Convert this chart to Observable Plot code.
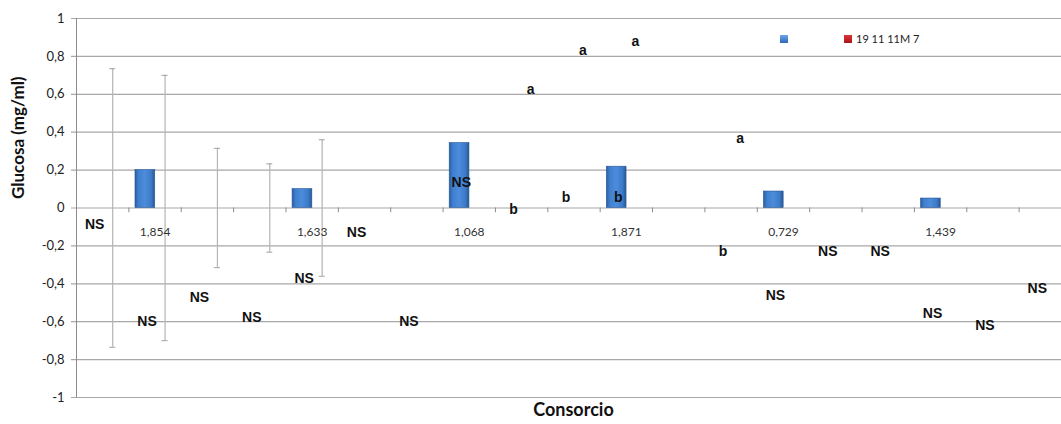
<!DOCTYPE html>
<html>
<head>
<meta charset="utf-8">
<script src="https://cdn.jsdelivr.net/npm/d3@7"></script>
<script src="https://cdn.jsdelivr.net/npm/@observablehq/plot@0.6"></script>
<style>
  body { margin: 0; background: #fff; }
  #wrap { position: relative; width: 1061px; height: 424px; }
  #legend { position: absolute; left: 780px; top: 32px; font-family: Lato, "Open Sans", sans-serif; font-size: 11px; color: #222; display: flex; align-items: center; }
  #legend .sw { width: 8px; height: 8px; display: inline-block; }
</style>
</head>
<body>
<div id="wrap">
  <div id="legend">
    <span class="sw" style="background: linear-gradient(#6aa6ea, #2f68b4);"></span>
    <span style="display:inline-block;width:56px"></span>
    <span class="sw" style="background: linear-gradient(#e0343a, #a8141a);"></span>
    <span style="margin-left:4px">19 11 11M 7</span>
  </div>
</div>
<script>
// ---- data ----
const tickLabels = ["", "1,854", "", "", "1,633", "", "", "1,068", "", "", "1,871", "", "", "0,729", "", "", "1,439", "", ""];
const categories = ["c0","c1","c2","c3","c4","c5","c6","c7","c8","c9","c10","c11","c12","c13","c14","c15","c16","c17","c18"];
const blueValues = [0, 0.2, 0, 0, 0.1, 0, 0, 0.343, 0, 0, 0.218, 0, 0, 0.087, 0, 0, 0.05, 0, 0];
const redValues  = [0, 0, 0, 0, 0, null, null, null, null, null, null, null, null, null, null, null, null, null, null];
const redErrors  = [0.735, 0.70, 0.315, 0.233, 0.36, null, null, null, null, null, null, null, null, null, null, null, null, null, null];
const yTicks = [-1, -0.8, -0.6, -0.4, -0.2, 0, 0.2, 0.4, 0.6, 0.8, 1];

const labelCats   = ["c0","c1","c2","c3","c4","c5","c6","c7","c8","c9","c10","c8","c9","c10","c12","c12","c13","c14","c15","c16","c17","c18"];
const labelValues = [-0.087, -0.60, -0.47, -0.58, -0.37, -0.13, -0.60, 0.136, -0.01, 0.057, 0.057, 0.627, 0.833, 0.88, 0.366, -0.23, -0.46, -0.23, -0.23, -0.557, -0.62, -0.425];
const labelTexts  = ["NS","NS","NS","NS","NS","NS","NS","NS","b","b","b","a","a","a","a","b","NS","NS","NS","NS","NS","NS"];
const labelSeries = [1,1,1,1,1,1,1,1,1,1,1,2,2,2,2,1,1,1,1,1,1,1];

// ---- tables built from arrays ----
const blue = categories.map((c, i) => ({cat: c, v: blueValues[i]})).filter(d => d.v > 0);
const red = categories.map((c, i) => ({cat: c, v: redValues[i], e: redErrors[i]})).filter(d => d.e != null);
const labels = labelTexts.map((t, i) => ({cat: labelCats[i], v: labelValues[i], t, s: labelSeries[i]}));
const ticksX = tickLabels.map((t, i) => ({cat: categories[i], t}));

const xRange = [76, 1071];
const bw = (xRange[1] - xRange[0]) / categories.length;
const fmt = d => String(Math.round(d * 10) / 10).replace(".", ",");
const labelFont = "'Liberation Sans', Arial, sans-serif";

const chart = Plot.plot({
  width: 1061,
  height: 424,
  marginLeft: 71,
  marginRight: 0,
  marginTop: 18,
  marginBottom: 27,
  style: {fontFamily: "Lato, 'Open Sans', sans-serif", background: "#fff"},
  x: {type: "band", domain: categories, range: xRange, padding: 0, round: false, axis: null},
  y: {domain: [-1, 1]},
  marks: [
    Plot.ruleY(yTicks, {stroke: "#a8a8a8", strokeWidth: 1.2}),
    Plot.ruleX([categories[0]], {x: d => d, y1: -1, y2: 1, dx: -bw / 2, stroke: "#8c8c8c"}),
    Plot.ruleX(categories, {x: d => d, y1: () => 0, y2: () => -0.025, dx: -bw / 2, stroke: "#8c8c8c"}),
    Plot.axisY({ticks: yTicks, tickSize: 0, tickPadding: 7, tickFormat: fmt, fontSize: 13, fill: "#222", label: null}),
    Plot.barY(blue, {x: "cat", y: "v", insetLeft: 6.6, insetRight: 26, fill: "url(#barGrad)", stroke: "#2a5a98", strokeWidth: 0.6}),
    Plot.ruleX(red, {x: "cat", y1: d => d.v - d.e, y2: d => d.v + d.e, dx: 10, stroke: "#b4b4b4", strokeWidth: 1.2}),
    Plot.tickY(red, {x: "cat", y: d => d.v + d.e, insetLeft: bw / 2 + 7, insetRight: bw / 2 - 13, stroke: "#a0a0a0"}),
    Plot.tickY(red, {x: "cat", y: d => d.v - d.e, insetLeft: bw / 2 + 7, insetRight: bw / 2 - 13, stroke: "#a0a0a0"}),
    Plot.text(ticksX, {x: "cat", y: () => 0, text: "t", dy: 24, fontSize: 12, fill: "#333"}),
    Plot.text(labels.filter(d => d.s === 1), {x: "cat", y: "v", text: "t", dx: -8, fontSize: 14, fontWeight: "bold", fill: "#111", fontFamily: labelFont}),
    Plot.text(labels.filter(d => d.s === 2), {x: "cat", y: "v", text: "t", dx: 9, fontSize: 14, fontWeight: "bold", fill: "#111", fontFamily: labelFont}),
    Plot.text(["Consorcio"], {frameAnchor: "bottom", dx: 7, dy: 18, fontSize: 18, fontWeight: "bold", fill: "#111"}),
    Plot.text(["Glucosa (mg/ml)"], {frameAnchor: "left", rotate: -90, dx: -53, dy: -9, fontSize: 17, fontWeight: "bold", fill: "#111"})
  ]
});

const ns = "http://www.w3.org/2000/svg";
const defs = document.createElementNS(ns, "defs");
defs.innerHTML = `<linearGradient id="barGrad" x1="0" x2="1" y1="0" y2="0">
  <stop offset="0" stop-color="#2b5c9d"/>
  <stop offset="0.18" stop-color="#3f7fcf"/>
  <stop offset="0.5" stop-color="#4c8cdb"/>
  <stop offset="0.82" stop-color="#3c7ac7"/>
  <stop offset="1" stop-color="#285692"/>
</linearGradient>`;
chart.insertBefore(defs, chart.firstChild);
document.getElementById("wrap").insertBefore(chart, document.getElementById("legend"));
</script>
</body>
</html>
